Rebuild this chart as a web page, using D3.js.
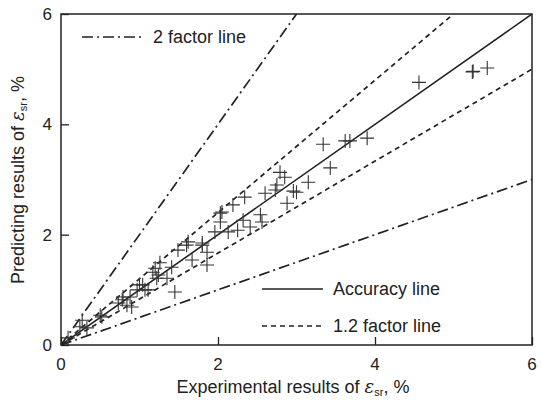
<!DOCTYPE html>
<html>
<head>
<meta charset="utf-8">
<script src="https://cdn.jsdelivr.net/npm/d3@7"></script>
<style>
  body { margin: 0; background: #fff; }
  text { font-family: "Liberation Sans", Arial, sans-serif; fill: #222; }
</style>
</head>
<body>
<div class="chart"></div>
<script>
// measured points (experimental, predicting)
var expVals = [0.09,0.24,0.27,0.33,0.50,0.52,0.73,0.78,0.84,0.90,0.88,0.79,0.97,1.00,1.04,1.07,1.11,1.20,1.24,1.17,1.22,1.35,1.26,1.41,1.45,1.49,1.62,1.67,1.80,1.86,1.60,1.80,1.86,1.96,2.03,2.05,2.03,2.13,2.19,2.25,2.32,2.41,2.34,2.54,2.56,2.60,2.73,2.75,2.79,2.85,2.88,2.96,3.00,3.15,3.43,3.34,3.62,3.68,3.90,4.56,5.24,5.25,5.43];
var predVals = [0.13,0.33,0.45,0.31,0.54,0.51,0.76,0.82,0.72,0.69,0.87,0.87,1.00,1.09,1.09,1.00,1.00,1.39,1.27,1.32,1.21,1.21,1.49,1.41,0.96,1.72,1.87,1.54,1.85,1.45,1.81,1.81,1.68,2.05,2.23,2.41,2.39,2.05,2.54,2.08,2.26,2.14,2.68,2.36,2.23,2.75,2.81,2.90,3.13,3.04,2.57,2.79,2.77,2.95,3.21,3.64,3.70,3.70,3.75,4.76,4.95,4.96,5.02];
var xTicks = [0, 2, 4, 6];
var yTicks = [0, 2, 4, 6];
// reference lines y = k * x
var lineFactors = [1, 1.2, 1 / 1.2, 2, 0.5];

var width = 542, height = 403;
var plotL = 61, plotR = 532, plotT = 14, plotB = 345;

var svg = d3.select(".chart").append("svg").attr("width", width).attr("height", height);

var x = d3.scaleLinear().domain([0, 6]).range([plotL, plotR]);
var y = d3.scaleLinear().domain([0, 6]).range([plotB, plotT]);

svg.append("clipPath").attr("id", "plot")
    .append("rect").attr("x", plotL).attr("y", plotT).attr("width", plotR - plotL).attr("height", plotB - plotT);

var lines = svg.append("g").attr("clip-path", "url(#plot)");

function styleFor(k) {
    if (k == 1) return null;
    if (k == 2 || k == 0.5) return "11,4,2,4";
    return "5,4";
}

lineFactors.forEach(function(k) {
    var xEnd = Math.min(6, 6 / k);
    lines.append("line")
        .attr("x1", x(0)).attr("y1", y(0))
        .attr("x2", x(xEnd)).attr("y2", y(xEnd * k))
        .attr("stroke", "#222")
        .attr("stroke-width", k == 1 ? 1.6 : 1.7)
        .attr("stroke-dasharray", styleFor(k));
});

// crosses
var pts = svg.append("g");
expVals.forEach(function(ev, i) {
    var cx = x(ev), cy = y(predVals[i]);
    pts.append("path")
        .attr("d", "M" + (cx - 7) + "," + cy + "H" + (cx + 7) + "M" + cx + "," + (cy - 7) + "V" + (cy + 7))
        .attr("stroke", "#333")
        .attr("stroke-width", 1.1)
        .attr("fill", "none");
});

// frame
svg.append("rect")
    .attr("x", plotL).attr("y", plotT).attr("width", plotR - plotL).attr("height", plotB - plotT)
    .attr("fill", "none").attr("stroke", "#222").attr("stroke-width", 1.5);

// inward ticks
var xAxis = d3.axisTop(x).tickValues(xTicks).tickSize(8).tickFormat("");
var yAxis = d3.axisRight(y).tickValues(yTicks).tickSize(8).tickFormat("");
svg.append("g").attr("transform", "translate(0," + plotB + ")").call(xAxis)
    .call(function(g) { g.select(".domain").remove(); g.selectAll("line").attr("stroke", "#222").attr("stroke-width", 1.3); });
svg.append("g").attr("transform", "translate(" + plotL + ",0)").call(yAxis)
    .call(function(g) { g.select(".domain").remove(); g.selectAll("line").attr("stroke", "#222").attr("stroke-width", 1.3); });

// tick labels
xTicks.forEach(function(t) {
    svg.append("text").text(t).attr("x", x(t)).attr("y", plotB + 25)
        .attr("text-anchor", "middle").attr("font-size", 17);
});
yTicks.forEach(function(t) {
    svg.append("text").text(t).attr("x", plotL - 9).attr("y", y(t) + 6)
        .attr("text-anchor", "end").attr("font-size", 17);
});

// axis titles
function epsLabel(sel, before) {
    sel.append("tspan").text(before);
    sel.append("tspan").text("ε").attr("font-style", "italic").attr("font-family", "DejaVu Serif, serif");
    sel.append("tspan").text("sr").attr("font-size", 11).attr("dy", 3);
    sel.append("tspan").text(", %").attr("dy", -3);
}
var xt = svg.append("text").attr("x", 293).attr("y", 393).attr("text-anchor", "middle").attr("font-size", 18);
epsLabel(xt, "Experimental results of ");
var yt = svg.append("text").attr("transform", "translate(24,180) rotate(-90)").attr("text-anchor", "middle").attr("font-size", 18);
epsLabel(yt, "Predicting results of ");

// legends
var legend = [
    { label: "2 factor line", k: 2, x1: 82, x2: 142, y: 37, tx: 153 },
    { label: "Accuracy line", k: 1, x1: 262, x2: 323, y: 289, tx: 333 },
    { label: "1.2 factor line", k: 1.2, x1: 262, x2: 323, y: 326, tx: 333 }
];
legend.forEach(function(d) {
    svg.append("line").attr("x1", d.x1).attr("x2", d.x2).attr("y1", d.y).attr("y2", d.y)
        .attr("stroke", "#222").attr("stroke-width", 1.7).attr("stroke-dasharray", styleFor(d.k));
    svg.append("text").text(d.label).attr("x", d.tx).attr("y", d.y + 6).attr("font-size", 18);
});
</script>
</body>
</html>
